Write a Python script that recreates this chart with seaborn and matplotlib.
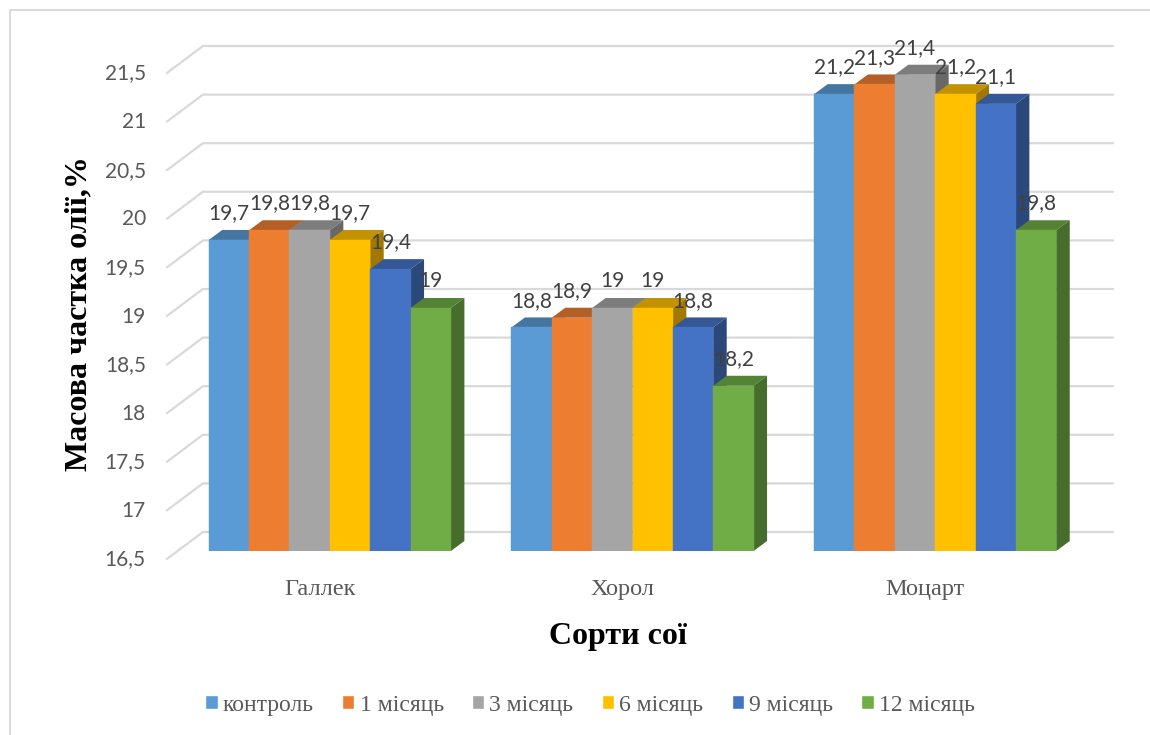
import pandas as pd
import seaborn as sns
import matplotlib.pyplot as plt
from matplotlib.lines import Line2D
from matplotlib.patches import Patch, Polygon

varieties = ['Галлек', 'Хорол', 'Моцарт']
periods = ['контроль', '1 місяць', '3 місяць', '6 місяць', '9 місяць', '12 місяць']
control = [19.7, 18.8, 21.2]
month_1 = [19.8, 18.9, 21.3]
month_3 = [19.8, 19.0, 21.4]
month_6 = [19.7, 19.0, 21.2]
month_9 = [19.4, 18.8, 21.1]
month_12 = [19.0, 18.2, 19.8]
colors = ['#5B9BD5', '#ED7D31', '#A5A5A5', '#FFC000', '#4472C4', '#70AD47']
y_ticks = [16.5, 17, 17.5, 18, 18.5, 19, 19.5, 20, 20.5, 21, 21.5]
y_tick_labels = ['16,5', '17', '17,5', '18', '18,5', '19', '19,5', '20', '20,5', '21', '21,5']

serif = 'Liberation Serif'
sans = 'Lato'

W, H = 1150, 735


def shade(color, k):
    r, g, b = plt.matplotlib.colors.to_rgb(color)
    return (r * k, g * k, b * k)


sns.set_theme(style='white')
plt.rcParams['font.family'] = [serif, 'DejaVu Sans']

rows = []
for name, vals in zip(periods, [control, month_1, month_3, month_6, month_9, month_12]):
    for v, val in zip(varieties, vals):
        rows.append({'sort': v, 'period': name, 'value': val})
df = pd.DataFrame(rows)

fig = plt.figure(figsize=(W / 100, H / 100), dpi=100)
ax = fig.add_axes([178.5 / W, 1 - 551 / H, 908 / W, 486 / H])

sns.barplot(data=df, x='sort', y='value', hue='period', hue_order=periods, order=varieties,
            palette=colors, saturation=1, width=0.8, gap=0, legend=False, ax=ax)
ax.set_xlim(-0.5, 2.5)
ax.set_ylim(y_ticks[0], y_ticks[-1])
sns.despine(ax=ax, left=True, bottom=True)
ax.patch.set_alpha(0)

# pixel sizes -> data units
px_x = 3 / 908
px_y = 5 / 486

# back wall and side wall gridlines
for t in y_ticks:
    ax.plot([-11.6 * px_x - 0.5, 24.4 * px_x - 0.5, 26.5 * px_x + 2.5],
            [t - 8 * px_y, t + 19 * px_y, t + 19 * px_y],
            color='#D9D9D9', lw=1.6, clip_on=False, zorder=0.5)

# fake 3d faces for each bar, left to right
dx, dy = 13.5 * px_x, 10 * px_y
for group in range(len(varieties)):
    for i, cont in enumerate(ax.containers):
        bar = cont[group]
        z = 2 + i * 0.1
        bar.set_zorder(z)
        # thin edge in the bar's own colour closes the seams between bars
        bar.set_edgecolor(colors[i])
        bar.set_linewidth(0.3)
        x0, x1, top = bar.get_x(), bar.get_x() + bar.get_width(), bar.get_height()
        base = y_ticks[0]
        ax.add_patch(Polygon([(x0, top), (x1, top), (x1 + dx, top + dy), (x0 + dx, top + dy)],
                             facecolor=shade(colors[i], 0.76), lw=0, zorder=z - 0.01, clip_on=False))
        ax.add_patch(Polygon([(x1, base), (x1, top), (x1 + dx, top + dy), (x1 + dx, base + dy)],
                             facecolor=shade(colors[i], 0.63), lw=0, zorder=z - 0.01, clip_on=False))

for i, cont in enumerate(ax.containers):
    labels = [f'{b.get_height():g}'.replace('.', ',') for b in cont]
    for txt in ax.bar_label(cont, labels=labels, padding=12, color='#404040', fontsize=15, family=sans):
        txt.set_zorder(5)

ax.set_yticks(y_ticks)
ax.set_yticklabels([])
ax.tick_params(axis='both', length=0)
for t, lab in zip(y_ticks, y_tick_labels):
    ax.annotate(lab, xy=(0, t - 8.5 * px_y), xycoords=ax.get_yaxis_transform(),
                xytext=(-23.5, 0), textcoords='offset points', ha='right', va='center',
                color='#595959', fontsize=15, family=sans)

# category labels sit a bit left of the bars in the original
ax.set_xticks([i - 10 * px_x for i in range(len(varieties))])
ax.set_xticklabels(varieties, fontsize=17.5, color='#595959', family=serif)
ax.tick_params(axis='x', pad=20)

ax.set_xlabel('Сорти сої', fontsize=23, fontweight='bold', color='black', family=serif)
ax.xaxis.set_label_coords(439 / 908, -71 / 486)
ax.set_ylabel('Масова частка олії,%', fontsize=23, fontweight='bold', color='black', family=serif)
ax.yaxis.set_label_coords(-85 / 908, 237 / 486)

handles = [Patch(facecolor=c, label=p) for c, p in zip(colors, periods)]
leg = fig.legend(handles=handles, ncols=6, loc='center', bbox_to_anchor=(590 / W, 1 - 705 / H),
                 frameon=False, handlelength=0.52, handleheight=0.52, handletextpad=0.22,
                 columnspacing=1.2, prop={'family': serif, 'size': 17})
for t in leg.get_texts():
    t.set_color('#595959')

# chart frame: only top and left edges show in the crop
fig.add_artist(Line2D([9.5 / W, 9.5 / W, 1], [0, 1 - 10 / H, 1 - 10 / H], transform=fig.transFigure,
                      color='#D9D9D9', lw=1.4))

fig.savefig('out.png', dpi=100)
